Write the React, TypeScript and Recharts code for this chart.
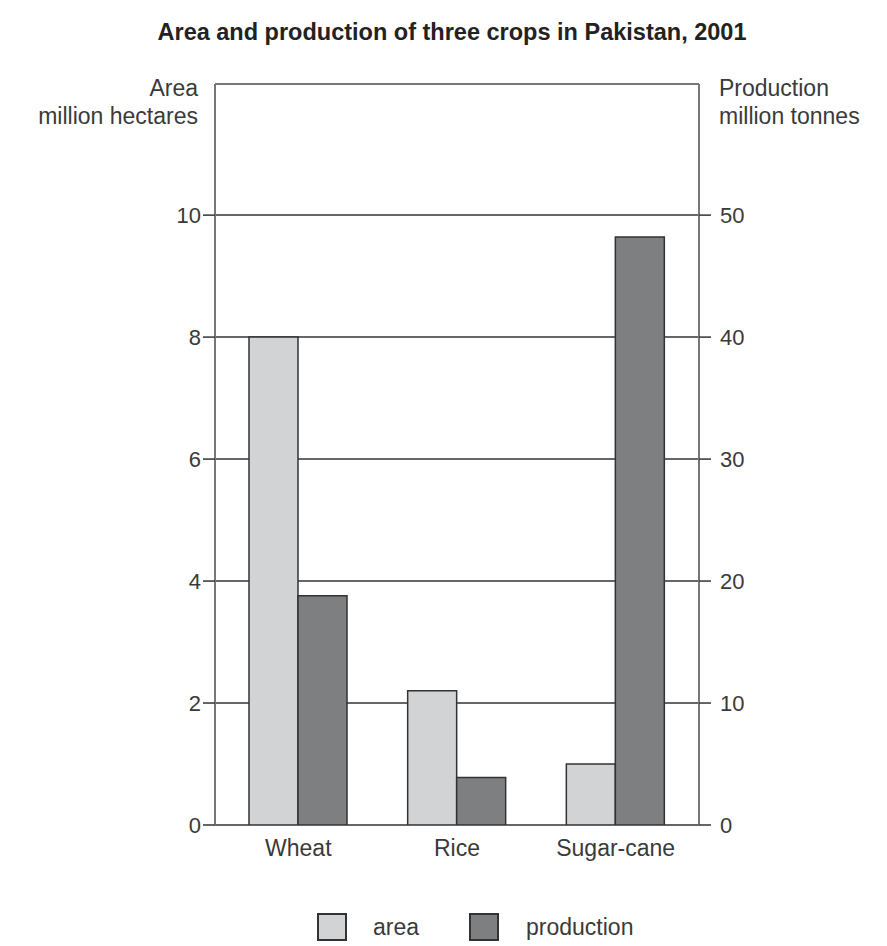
import React from 'react';
import {
  BarChart,
  Bar,
  XAxis,
  YAxis,
  CartesianGrid,
} from 'recharts';

const crops = ['Wheat', 'Rice', 'Sugar-cane'];
const areaMha = [8.0, 2.2, 1.0];
const productionMt = [18.8, 3.9, 48.2];
const areaTicks = [0, 2, 4, 6, 8, 10];
const productionTicks = [0, 10, 20, 30, 40, 50];

// plot box runs a bit above the top tick
const AREA_MAX = 12.15;
const PROD_MAX = AREA_MAX * 5;

const FONT = '"Liberation Sans", Arial, sans-serif';
const AREA_FILL = '#d2d3d5';
const PROD_FILL = '#7e7f81';
const EDGE = '#333';
const FRAME = '#777';
const TEXT = '#3a3a3a';

const data = crops.map((c, i) => ({
  crop: c,
  area: areaMha[i],
  production: productionMt[i],
}));

export default function App() {
  return (
    <div style={{ position: 'relative', width: 871, height: 938, fontFamily: FONT, color: TEXT }}>
      <div
        style={{
          position: 'absolute',
          top: 10,
          left: 0,
          width: 888,
          textAlign: 'center',
          fontWeight: 'bold',
          fontSize: 23.5,
          lineHeight: '28px',
          color: '#222',
        }}
      >
        Area and production of three crops in Pakistan, 2001
      </div>
      <div style={{ position: 'absolute', top: 66, left: 0, width: 190, textAlign: 'right', fontSize: 23, lineHeight: '28px', whiteSpace: 'nowrap' }}>
        Area
        <br />
        million hectares
      </div>
      <div style={{ position: 'absolute', top: 66, left: 711, fontSize: 23, lineHeight: '28px', whiteSpace: 'nowrap' }}>
        Production
        <br />
        million tonnes
      </div>

      <BarChart
        width={871}
        height={930}
        data={data}
        margin={{ top: 76, right: 120, left: 147, bottom: 83 }}
        barGap={0}
        barSize={49}
      >
        <CartesianGrid
          yAxisId="left"
          vertical={false}
          horizontal
          stroke={EDGE}
          strokeWidth={1.5}
          horizontalValues={areaTicks}
        />
        {/* top edge of the frame */}
        <CartesianGrid
          yAxisId="left"
          vertical={false}
          horizontal
          stroke={FRAME}
          strokeWidth={2}
          horizontalValues={[AREA_MAX]}
        />
        <XAxis
          xAxisId="edge"
          type="number"
          domain={[0, 3]}
          ticks={[0, 1, 2, 3]}
          allowDataOverflow
          height={0}
          tick={false}
          tickSize={8}
          tickLine={{ stroke: EDGE, strokeWidth: 1.5 }}
          axisLine={{ stroke: EDGE, strokeWidth: 1.5 }}
        />
        <XAxis
          xAxisId="cat"
          dataKey="crop"
          height={30}
          padding={{ left: 4, right: 4 }}
          axisLine={false}
          tickLine={false}
          tick={{ fill: TEXT, fontSize: 23, fontFamily: FONT }}
          dy={7}
        />
        <YAxis
          yAxisId="left"
          orientation="left"
          width={60}
          domain={[0, AREA_MAX]}
          ticks={areaTicks}
          allowDataOverflow
          axisLine={{ stroke: FRAME, strokeWidth: 2 }}
          tickLine={{ stroke: EDGE, strokeWidth: 1.5 }}
          tickSize={12}
          tick={{ fill: TEXT, fontSize: 22, fontFamily: FONT }}
        />
        <YAxis
          yAxisId="right"
          orientation="right"
          width={60}
          domain={[0, PROD_MAX]}
          ticks={productionTicks}
          allowDataOverflow
          axisLine={{ stroke: FRAME, strokeWidth: 2 }}
          tickLine={{ stroke: EDGE, strokeWidth: 1.5 }}
          tickSize={12}
          tickMargin={9}
          tick={{ fill: TEXT, fontSize: 22, fontFamily: FONT }}
        />
        <Bar
          xAxisId="cat"
          yAxisId="left"
          dataKey="area"
          fill={AREA_FILL}
          stroke={EDGE}
          strokeWidth={1.5}
          isAnimationActive={false}
        />
        <Bar
          xAxisId="cat"
          yAxisId="right"
          dataKey="production"
          fill={PROD_FILL}
          stroke={EDGE}
          strokeWidth={1.5}
          isAnimationActive={false}
        />
      </BarChart>

      <div style={{ position: 'absolute', top: 905, left: 309, display: 'flex', alignItems: 'center', fontSize: 23, lineHeight: '28px' }}>
        <span style={{ display: 'inline-block', width: 30, height: 28, background: AREA_FILL, border: `2px solid ${EDGE}`, boxSizing: 'border-box' }} />
        <span style={{ marginLeft: 26 }}>area</span>
        <span style={{ display: 'inline-block', width: 30, height: 28, background: PROD_FILL, border: `2px solid ${EDGE}`, boxSizing: 'border-box', marginLeft: 50 }} />
        <span style={{ marginLeft: 27 }}>production</span>
      </div>
    </div>
  );
}
